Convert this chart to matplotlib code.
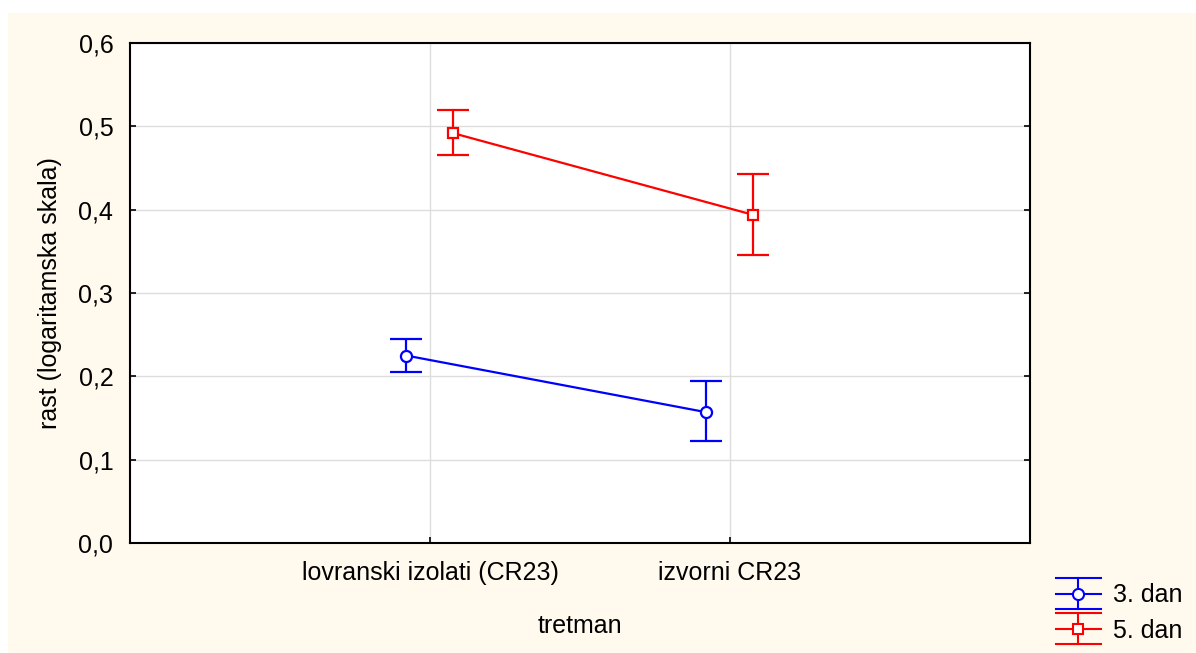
import matplotlib.pyplot as plt
from matplotlib.container import ErrorbarContainer
from matplotlib.legend_handler import HandlerBase
from matplotlib.lines import Line2D
from matplotlib.patches import Rectangle

plt.rcParams['font.family'] = ['Liberation Sans', 'DejaVu Sans']

categories = ['lovranski izolati (CR23)', 'izvorni CR23']
series = ['3. dan', '5. dan']
means = {'3. dan': [0.225, 0.157], '5. dan': [0.492, 0.394]}
lower = {'3. dan': [0.205, 0.122], '5. dan': [0.466, 0.346]}
upper = {'3. dan': [0.245, 0.194], '5. dan': [0.520, 0.443]}
yticks = [0.0, 0.1, 0.2, 0.3, 0.4, 0.5, 0.6]

colors = {'3. dan': '#0000ff', '5. dan': '#ff0000'}
markers = {'3. dan': 'o', '5. dan': 's'}
msizes = {'3. dan': 8, '5. dan': 7}
offsets = {'3. dan': -0.08, '5. dan': 0.075}
FS = 18


class ErrHandler(HandlerBase):
    # legend key: long line, full-width caps, vertical bar and marker
    def create_artists(self, legend, orig_handle, xdescent, ydescent,
                       width, height, fontsize, trans):
        ln = orig_handle.lines[0]
        c = ln.get_color()
        x0, x1 = -xdescent, -xdescent + width
        xm = (x0 + x1) / 2
        ym = -ydescent + height / 2
        d = 0.62 * fontsize
        arts = []
        for y in (ym - d, ym, ym + d):
            arts.append(Line2D([x0, x1], [y, y], color=c, lw=1.5, transform=trans))
        arts.append(Line2D([xm, xm], [ym - d, ym + d], color=c, lw=1.5, transform=trans))
        arts.append(Line2D([xm], [ym], marker=ln.get_marker(), ms=ln.get_markersize(),
                           mfc='white', mec=c, mew=1.5, color=c, transform=trans))
        return arts


fig = plt.figure(figsize=(11.96, 6.53), dpi=100)
fig.patches.append(Rectangle((8 / 1196, 0), 1, 1 - 13 / 653, transform=fig.transFigure,
                             facecolor='#fff9ee', edgecolor='none', zorder=-10))
ax = fig.add_axes([130 / 1196, 1 - 543 / 653, 900 / 1196, 500 / 653])
ax.set_facecolor('white')

xbase = list(range(1, len(categories) + 1))
conts = []
for s in series:
    xs = [x + offsets[s] for x in xbase]
    m = means[s]
    err = [[mi - lo for mi, lo in zip(m, lower[s])],
           [up - mi for mi, up in zip(m, upper[s])]]
    cont = ax.errorbar(xs, m, yerr=err, color=colors[s], lw=1.6, elinewidth=1.6,
                       capsize=11.5, capthick=1.6, marker=markers[s], ms=msizes[s],
                       mfc='white', mec=colors[s], mew=1.6, label=s, zorder=3)
    conts.append(cont)

ax.set_xlim(0, len(categories) + 1)
ax.set_ylim(0, 0.6)
ax.set_xticks(xbase)
ax.set_xticklabels(categories)
ax.set_yticks(yticks)
ax.set_yticklabels([f'{v:.1f}'.replace('.', ',') for v in yticks])
ax.grid(True, color='#dddddd', lw=1)
ax.set_axisbelow(True)
ax.tick_params(direction='in', length=4, width=1.2, labelsize=FS,
               right=True, labelright=False)
ax.tick_params(axis='y', pad=12)
ax.tick_params(axis='x', pad=13)
for sp in ax.spines.values():
    sp.set_linewidth(1.5)

ax.set_xlabel('tretman', fontsize=FS, labelpad=21)
ax.set_ylabel('rast (logaritamska skala)', fontsize=FS, labelpad=12)

fig.legend(conts, series, handler_map={ErrorbarContainer: ErrHandler()},
           loc='center left', bbox_to_anchor=(1043 / 1196, 1 - 613 / 653),
           bbox_transform=fig.transFigure, frameon=False, fontsize=FS,
           handlelength=1.8, handletextpad=0.5, labelspacing=0.45, borderpad=0)

fig.savefig('out.png', dpi=100, facecolor='white')
